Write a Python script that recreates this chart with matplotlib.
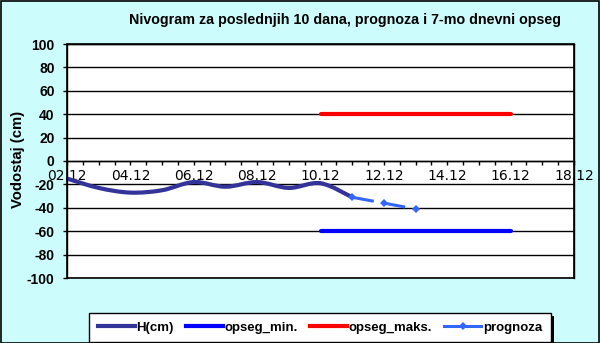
import matplotlib
matplotlib.use("Agg")
import matplotlib.pyplot as plt
from matplotlib.path import Path
from matplotlib.patches import PathPatch, Rectangle
from matplotlib.lines import Line2D
import numpy as np

# ---- data ----
h_days = [2, 3, 4, 5, 6, 7, 8, 9, 10, 11]
h_values = [-15, -23, -27, -25, -18, -22, -18, -23, -19, -31]
prog_days = [11, 12, 13]
prog_values = [-31, -36, -41]
range_days = [10, 16]
range_min = [-60, -60]
range_max = [40, 40]
x_tick_days = [2, 4, 6, 8, 10, 12, 14, 16, 18]
x_tick_labels = ["02.12", "04.12", "06.12", "08.12", "10.12", "12.12", "14.12", "16.12", "18.12"]
y_ticks = [-100, -80, -60, -40, -20, 0, 20, 40, 60, 80, 100]
title = "Nivogram za poslednjih 10 dana, prognoza i 7-mo dnevni opseg"
ylabel = "Vodostaj (cm)"
legend_labels = ["H(cm)", "opseg_min.", "opseg_maks.", "prognoza"]

FONT = "Liberation Sans"
plt.rcParams['lines.scale_dashes'] = False
W, H = 600, 343
fig = plt.figure(figsize=(W / 100, H / 100), dpi=100, facecolor="#cdfcfc")
fig.patches.append(Rectangle((0.5 / W, 0.5 / H), 1 - 1.5 / W, 1 - 1.5 / H, transform=fig.transFigure,
                             fill=False, edgecolor="black", linewidth=1.2))

ax = fig.add_axes([67 / W, 1 - 278 / H, 507 / W, 234 / H])
ax.set_facecolor("white")
ax.set_xlim(2, 18)
ax.set_ylim(-100, 100)
ax.set_yticks(y_ticks)
ax.set_yticklabels([str(v) for v in y_ticks], fontsize=10, fontweight="bold", family=FONT)
ax.yaxis.grid(True, color="black", linewidth=1)
ax.tick_params(axis="y", direction="out", length=3, width=1, pad=6)
ax.set_xticks(x_tick_days)
ax.set_xticklabels(x_tick_labels, fontsize=10, fontweight="bold", family=FONT)
ax.set_xticks(np.arange(2, 18.01, 0.5), minor=True)
ax.tick_params(axis="x", which="both", direction="out", length=3, width=1, color="black")
ax.tick_params(axis="x", which="major", pad=2.5)
ax.spines["bottom"].set_position(("data", 0))
for s in ["left", "right", "top", "bottom"]:
    ax.spines[s].set_linewidth(1)
ax.add_patch(Rectangle((0, 0), 1, 1, transform=ax.transAxes, fill=False,
                       edgecolor="black", linewidth=1.2, clip_on=False, zorder=7))
ax.set_axisbelow(False)

# smoothed H line (Catmull-Rom -> Bezier)
px = np.array(h_days, float)
py = np.array(h_values, float)
verts = [(px[0], py[0])]
codes = [Path.MOVETO]
n = len(px)
for i in range(n - 1):
    p0 = (px[max(i - 1, 0)], py[max(i - 1, 0)])
    p1 = (px[i], py[i])
    p2 = (px[i + 1], py[i + 1])
    p3 = (px[min(i + 2, n - 1)], py[min(i + 2, n - 1)])
    c1 = (p1[0] + (p2[0] - p0[0]) / 6, p1[1] + (p2[1] - p0[1]) / 6)
    c2 = (p2[0] - (p3[0] - p1[0]) / 6, p2[1] - (p3[1] - p1[1]) / 6)
    verts += [c1, c2, p2]
    codes += [Path.CURVE4] * 3
ax.add_patch(PathPatch(Path(verts, codes), facecolor="none", edgecolor="#333399",
                       linewidth=3, capstyle="round", zorder=5))

ax.plot(range_days, range_min, color="#0000ff", linewidth=3, solid_capstyle="round", zorder=5)
ax.plot(range_days, range_max, color="#ff0000", linewidth=3, solid_capstyle="round", zorder=5)
ax.plot(prog_days, prog_values, color="#3366ff", linewidth=2.2, dashes=(15.8, 7.2),
        marker="D", markersize=4, markeredgewidth=0, zorder=6)

fig.text(345 / W, 1 - 20 / H, title, ha="center", va="center", fontsize=10.3,
         fontweight="bold", family=FONT)
fig.text(18 / W, 1 - 159 / H, ylabel, ha="center", va="center", rotation=90,
         fontsize=10.7, fontweight="bold", family=FONT)

handles = [
    Line2D([], [], color="#333399", linewidth=3),
    Line2D([], [], color="#0000ff", linewidth=3),
    Line2D([], [], color="#ff0000", linewidth=3),
    Line2D([], [], color="#3366ff", linewidth=2.2, marker="D", markersize=4, markeredgewidth=0),
]
leg = fig.legend(handles, legend_labels, loc="center", bbox_to_anchor=(320 / W, 1 - 327.5 / H),
                 ncol=4, frameon=True, fancybox=False, edgecolor="black", facecolor="white",
                 framealpha=1, prop={"family": FONT, "weight": "bold", "size": 9.5},
                 handlelength=2.8, handletextpad=0.15, columnspacing=0.9, borderpad=0.65)
leg.get_frame().set_linewidth(1)
leg.set_zorder(10)

# legend shadow
fig.canvas.draw()
bb = leg.get_window_extent()
fig.patches.append(Rectangle(((bb.x0 + 3) / W, (bb.y0 - 3) / H), bb.width / W, bb.height / H,
                             transform=fig.transFigure, facecolor="black", edgecolor="none", zorder=1))

fig.savefig("out.png", dpi=100, facecolor=fig.get_facecolor())
